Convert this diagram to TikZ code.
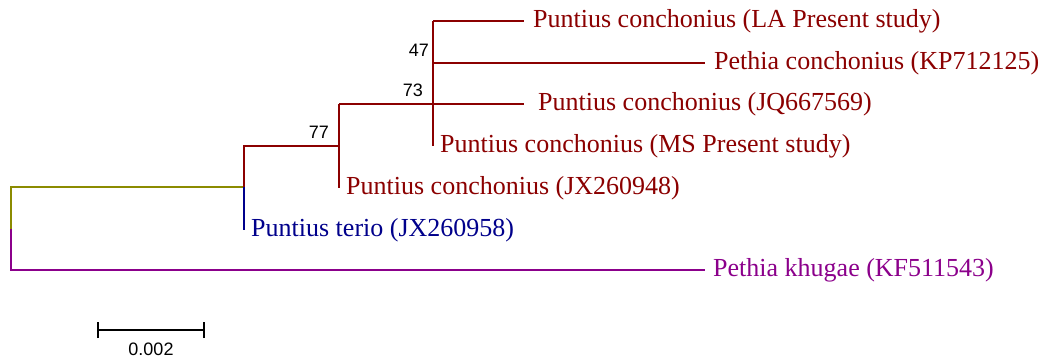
\documentclass[tikz,border=0pt]{standalone}
\usepackage{fontspec}
\setmainfont{Liberation Serif}
\newfontfamily\numfont{Liberation Sans}
\definecolor{cred}{RGB}{139,0,0}
\definecolor{cblue}{RGB}{0,0,139}
\definecolor{colive}{RGB}{139,139,0}
\definecolor{cpurple}{RGB}{139,0,139}
\begin{document}
\begin{tikzpicture}[x=1pt,y=-1pt,
  br/.style={line width=1.6pt},
  taxon/.style={anchor=west,inner sep=0pt,font=\fontsize{26}{28}\selectfont},
  boot/.style={inner sep=0pt,font=\numfont\fontsize{18}{20}\selectfont}]
\useasboundingbox (0,0) rectangle (1050,358);
% coordinates
\coordinate (root) at (11,229);
\coordinate (rtop) at (11,187);
\coordinate (rbot) at (11,270);
\coordinate (n77) at (244,187);
\coordinate (n77t) at (244,146);
\coordinate (n77b) at (244,230);
\coordinate (n73) at (339,146);
\coordinate (n73t) at (339,104);
\coordinate (n73b) at (339,188);
\coordinate (n47) at (433,104);
\coordinate (n47t) at (433,21);
\coordinate (n47m) at (433,63);
\coordinate (n47b) at (433,146);
\coordinate (tLA) at (524,21);
\coordinate (tKP) at (705,63);
\coordinate (tJQ) at (524,104);
\coordinate (tKF) at (705,270);
% branches
\draw[br,colive] (root) -- (rtop) -- (n77);
\draw[br,cpurple] (root) -- (rbot) -- (tKF);
\draw[br,cblue] (n77) -- (n77b);
\draw[br,cred] (n77) -- (n77t) -- (n73);
\draw[br,cred] (n73t) -- (n73b);
\draw[br,cred] (n73t) -- (n47);
\draw[br,cred] (n47t) -- (n47b);
\draw[br,cred] (n47t) -- (tLA);
\draw[br,cred] (n47m) -- (tKP);
\draw[br,cred] (n47) -- (tJQ);
% taxa
\node[taxon,text=cred] (LA) at (533,21) {Puntius conchonius (LA Present study)};
\node[taxon,text=cred] (KP) at (714,63) {Pethia conchonius (KP712125)};
\node[taxon,text=cred] (JQ) at (538,104) {Puntius conchonius (JQ667569)};
\node[taxon,text=cred] (MS) at (440,146) {Puntius conchonius (MS Present study)};
\node[taxon,text=cred] (JX1) at (346,188) {Puntius conchonius (JX260948)};
\node[taxon,text=cblue] (JX2) at (251,230) {Puntius terio (JX260958)};
\node[taxon,text=cpurple] (KF) at (713,270) {Pethia khugae (KF511543)};
% bootstrap
\node[boot,anchor=east] (b47) at (429,50) {47};
\node[boot,anchor=east] (b73) at (423,90) {73};
\node[boot,anchor=east] (b77) at (329,132) {77};
% scale bar
\coordinate (s1) at (98,330);
\coordinate (s2) at (204,330);
\draw[line width=1.4pt] (s1) -- (s2);
\draw[line width=1.4pt] ([yshift=-8]s1) -- ([yshift=8]s1);
\draw[line width=1.4pt] ([yshift=-8]s2) -- ([yshift=8]s2);
\node[boot,anchor=north] (sl) at (151,343) {0.002};
\end{tikzpicture}
\end{document}
